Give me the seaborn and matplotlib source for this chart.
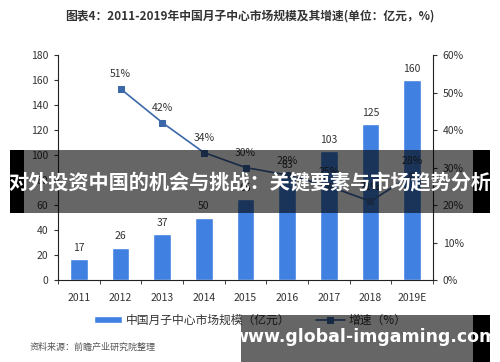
import numpy as np
import matplotlib
matplotlib.use('Agg')
import matplotlib.pyplot as plt
import seaborn as sns
from matplotlib.patches import Rectangle
from matplotlib.ticker import FuncFormatter

years = ['2011', '2012', '2013', '2014', '2015', '2016', '2017', '2018', '2019E']
market_size = [17, 26, 37, 50, 65, 83, 103, 125, 160]
growth = [np.nan, 51, 42, 34, 30, 28, 25, 21, 28]

sns.set_style('white')
plt.rcParams['font.family'] = ['Noto Sans CJK SC', 'DejaVu Sans']

bar_color = '#4080e0'
line_color = '#3a68a8'
text_color = '#333333'

fig = plt.figure(figsize=(5, 3.62), dpi=100)
ax = fig.add_axes([0.116, 0.2265, 0.75, 0.6215])

sns.barplot(x=years, y=market_size, color=bar_color, width=0.42, saturation=1, ax=ax,
            label='中国月子中心市场规模（亿元）')
if ax.get_legend() is not None:
    ax.get_legend().remove()
ax.set_ylim(0, 180)
ax.set_yticks(range(0, 181, 20))
ax.set_xlim(-0.5, len(years) - 0.5)
for i, v in enumerate(market_size):
    ax.text(i, v + 5, str(v), ha='center', va='bottom', fontsize=7.5, color=text_color)

ax2 = ax.twinx()
pos = np.arange(len(years))
sns.lineplot(x=pos[1:], y=growth[1:], ax=ax2, color=line_color, marker='s', markersize=4,
             markeredgecolor=line_color, linewidth=1.2, label='增速（%）', legend=False)
ax2.set_ylim(0, 60)
ax2.set_yticks(range(0, 61, 10))
ax2.yaxis.set_major_formatter(FuncFormatter(lambda v, p: f'{v:.0f}%'))
for i, g in zip(pos[1:], growth[1:]):
    ax2.text(i, g + 2.5, f'{g:.0f}%', ha='center', va='bottom', fontsize=7.5, color=text_color)

for a in (ax, ax2):
    a.spines['top'].set_visible(False)
    for s in ('left', 'right', 'bottom'):
        a.spines[s].set_color('#222222')
        a.spines[s].set_linewidth(0.8)
ax.spines['right'].set_visible(False)
ax2.spines['left'].set_visible(False)
ax2.spines['bottom'].set_visible(False)

ax.tick_params(axis='y', left=True, length=3, labelsize=7.5, colors=text_color, pad=4)
ax.tick_params(axis='x', bottom=False, labelsize=7.5, colors=text_color, pad=6)
ax.set_xticks(np.arange(-0.5, len(years), 1), minor=True)
ax.tick_params(axis='x', which='minor', bottom=True, length=3, color='#222222')
ax2.tick_params(axis='y', right=True, length=3, labelsize=7.5, colors=text_color, pad=4)
ax.set_xlabel('')
ax.set_ylabel('')
ax2.set_ylabel('')

h1, l1 = ax.get_legend_handles_labels()
h2, l2 = ax2.get_legend_handles_labels()
fig.legend(h1 + h2, l1 + l2, loc='center', bbox_to_anchor=(0.5, 0.115), ncol=2,
           frameon=False, fontsize=8.5, handlelength=2.4, handleheight=0.5, handletextpad=0.3,
           columnspacing=2.2, labelcolor=text_color)

fig.text(0.5, 0.957, '图表4：2011-2019年中国月子中心市场规模及其增速(单位：亿元，%)',
         ha='center', va='center', fontsize=8.5, fontweight='bold', color='#333333')
fig.text(0.06, 0.04, '资料来源：前瞻产业研究院整理', ha='left', va='center',
         fontsize=6.5, color='#555555')

# overlay banners
fig.patches.append(Rectangle((0.048, 1 - 213 / 362), 0.898, 63 / 362, transform=fig.transFigure,
                             facecolor='black', alpha=0.6, edgecolor='none', zorder=10))
fig.patches.append(Rectangle((0.02, 1 - 213 / 362), 0.028, 63 / 362, transform=fig.transFigure,
                             facecolor='black', edgecolor='none', zorder=10))
fig.patches.append(Rectangle((0.946, 1 - 213 / 362), 0.034, 63 / 362, transform=fig.transFigure,
                             facecolor='black', edgecolor='none', zorder=10))
fig.text(0.5, 1 - 182 / 362, '对外投资中国的机会与挑战：关键要素与市场趋势分析', ha='center',
         va='center', fontsize=14.5, fontweight='bold', color='white', zorder=11)

fig.patches.append(Rectangle((0.482, 0), 0.464, 47 / 362, transform=fig.transFigure,
                             facecolor='black', alpha=0.6, edgecolor='none', zorder=10))
fig.patches.append(Rectangle((0.946, 0), 0.034, 47 / 362, transform=fig.transFigure,
                             facecolor='black', edgecolor='none', zorder=10))
fig.text(0.73, 1 - 337 / 362, 'www.global-imgaming.com', ha='center', va='center',
         fontsize=12.5, fontweight='bold', color='white', family=['DejaVu Sans'], zorder=11)

fig.savefig('out.png', dpi=100)
